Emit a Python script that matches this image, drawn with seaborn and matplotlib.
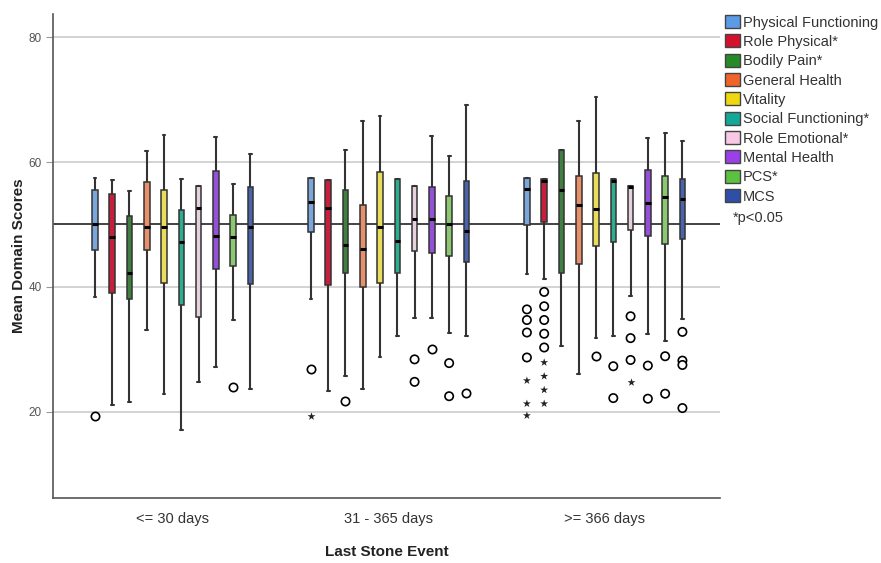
import numpy as np
import pandas as pd
import matplotlib
matplotlib.use("Agg")
import matplotlib.pyplot as plt
from matplotlib.patches import Patch
import seaborn as sns

categories = ["<= 30 days", "31 - 365 days", ">= 366 days"]
domains = ["Physical Functioning", "Role Physical*", "Bodily Pain*", "General Health",
           "Vitality", "Social Functioning*", "Role Emotional*", "Mental Health",
           "PCS*", "MCS"]

# five-number summaries per category (rows) and domain (columns)
whisker_low = [
    [38.4, 21.1, 21.6, 33.1, 22.8, 17.1, 24.8, 27.2, 34.7, 23.6],
    [38.1, 23.4, 25.7, 23.6, 28.8, 32.1, 35.0, 35.0, 32.6, 32.2],
    [42.1, 41.3, 30.5, 26.1, 31.8, 32.2, 38.6, 32.5, 31.3, 34.9],
]
quart1 = [
    [45.9, 39.1, 38.1, 45.9, 40.6, 37.1, 35.2, 42.9, 43.4, 40.4],
    [48.8, 40.3, 42.2, 40.0, 40.6, 42.2, 45.7, 45.5, 45.0, 44.0],
    [49.9, 50.4, 42.3, 43.7, 46.6, 47.2, 49.1, 48.2, 46.9, 47.6],
]
medians = [
    [50.0, 48.0, 42.2, 49.6, 49.6, 47.2, 52.6, 48.2, 48.0, 49.6],
    [53.6, 52.6, 46.7, 46.0, 49.6, 47.3, 50.9, 50.9, 50.0, 48.9],
    [55.6, 57.0, 55.5, 53.1, 52.5, 57.0, 56.0, 53.4, 54.4, 54.1],
]
quart3 = [
    [55.5, 54.8, 51.4, 56.8, 55.5, 52.3, 56.1, 58.6, 51.5, 56.0],
    [57.4, 57.1, 55.5, 53.1, 58.4, 57.2, 56.1, 56.0, 54.5, 57.0],
    [57.5, 57.2, 62.0, 57.8, 58.3, 57.2, 56.1, 58.7, 57.7, 57.3],
]
whisker_high = [
    [57.4, 57.1, 55.4, 61.7, 64.3, 57.2, 56.1, 64.0, 56.4, 61.3],
    [57.4, 57.1, 62.0, 66.5, 67.4, 57.2, 56.1, 64.1, 61.0, 69.2],
    [57.5, 57.2, 62.0, 66.5, 70.4, 57.2, 56.1, 63.9, 64.7, 63.4],
]

# outliers: (category index, domain index, value)
outlier_circles = [
    (0, 0, 19.4), (0, 8, 24.0),
    (1, 0, 26.8), (1, 2, 21.7), (1, 6, 28.4), (1, 6, 24.8), (1, 7, 30.0),
    (1, 8, 27.8), (1, 8, 22.5), (1, 9, 23.0),
    (2, 0, 36.4), (2, 0, 34.7), (2, 0, 32.7), (2, 0, 28.7),
    (2, 1, 39.2), (2, 1, 36.9), (2, 1, 34.7), (2, 1, 32.5), (2, 1, 30.3),
    (2, 4, 28.9), (2, 5, 27.3), (2, 5, 22.2),
    (2, 6, 35.3), (2, 6, 31.8), (2, 6, 28.3),
    (2, 7, 27.4), (2, 7, 22.1), (2, 8, 28.9), (2, 8, 22.9),
    (2, 9, 32.8), (2, 9, 28.2), (2, 9, 27.5), (2, 9, 20.6),
]
outlier_stars = [
    (1, 0, 19.3),
    (2, 0, 25.0), (2, 0, 21.3), (2, 0, 19.4),
    (2, 1, 27.9), (2, 1, 25.7), (2, 1, 23.5), (2, 1, 21.3),
    (2, 6, 24.8),
]

box_colors = ["#7aa6dc", "#c4203e", "#3f7f3f", "#e8906a", "#e8de5c",
              "#2cae8e", "#e6d2de", "#9450d6", "#8cc870", "#4a64ac"]
legend_colors = ["#5b9be6", "#d4102c", "#268a26", "#f0642a", "#f0d810",
                 "#14a896", "#f8c8e4", "#9a40e8", "#5cc040", "#2e4ea8"]

# long-form table built from the summaries
rows = []
for ci, cat in enumerate(categories):
    for di, dom in enumerate(domains):
        for arr in (whisker_low, quart1, medians, quart3, whisker_high):
            rows.append({"cat": cat, "dom": dom, "val": arr[ci][di]})
df = pd.DataFrame(rows)

circ_df = pd.DataFrame([{"cat": categories[c], "dom": domains[d], "val": v}
                        for c, d, v in outlier_circles])
star_df = pd.DataFrame([{"cat": categories[c], "dom": domains[d], "val": v}
                        for c, d, v in outlier_stars])

sns.set_style("white")
plt.rcParams["font.family"] = ["Liberation Sans", "DejaVu Sans"]

fig = plt.figure(figsize=(8.81, 5.63), dpi=100)
ax = fig.add_axes([53 / 881, 1 - 498 / 563, (720 - 53) / 881, (498 - 14) / 563])

ax.set_axisbelow(True)
ax.yaxis.grid(True, color="#c8c8c8", linewidth=1.1)
ax.axhline(50, color="#222222", linewidth=1.2, zorder=1.5)

pal = dict(zip(domains, box_colors))
sns.boxplot(data=df, x="cat", y="val", hue="dom", order=categories, hue_order=domains,
            palette=pal, saturation=1, width=0.8, gap=0.68, whis=(0, 100),
            showfliers=False, linecolor="#333333", linewidth=1.1,
            medianprops=dict(color="black", linewidth=2.2),
            whiskerprops=dict(linewidth=1.5),
            capprops=dict(linewidth=1.5),
            legend=False, ax=ax)

sns.stripplot(data=circ_df, x="cat", y="val", hue="dom", order=categories,
              hue_order=domains, palette=dict(zip(domains, ["white"] * 10)),
              dodge=True, jitter=False, marker="o", size=6, linewidth=1.2,
              edgecolor="black", legend=False, ax=ax, zorder=4)
sns.stripplot(data=star_df, x="cat", y="val", hue="dom", order=categories,
              hue_order=domains, palette=dict(zip(domains, ["#222222"] * 10)),
              dodge=True, jitter=False, marker="*", size=6, linewidth=0,
              legend=False, ax=ax, zorder=4)

ax.set_ylim(6.2, 83.7)
ax.set_xlim(-0.554, 2.534)
ax.set_yticks([20, 40, 60, 80])
ax.tick_params(axis="y", length=5, color="#999999", labelcolor="#555555", labelsize=8.5, pad=3, left=True)
ax.tick_params(axis="x", length=0, labelcolor="#333333", labelsize=10.5, pad=10)
for s in ["top", "right"]:
    ax.spines[s].set_visible(False)
for s in ["left", "bottom"]:
    ax.spines[s].set_color("#555555")
    ax.spines[s].set_linewidth(1.2)

ax.set_xlabel("Last Stone Event", fontsize=11, fontweight="bold", color="#222222", labelpad=14)
ax.set_ylabel("Mean Domain Scores", fontsize=11, fontweight="bold", color="#222222")
ax.yaxis.set_label_coords(-0.041, 0.5)

handles = [Patch(facecolor=c, edgecolor="#444444", linewidth=1.0, label=d)
           for c, d in zip(legend_colors, domains)]
fig.legend(handles=handles, loc="upper left", bbox_to_anchor=(725 / 881, 1 - 15 / 563),
           frameon=False, fontsize=10.5, handlelength=1.0, handleheight=1.0,
           handletextpad=0.25, labelspacing=0.33, borderaxespad=0, borderpad=0,
           labelcolor="#333333")
fig.text(733 / 881, 1 - 218 / 563, "*p<0.05", fontsize=10.5, color="#333333", va="center")

fig.savefig("out.png", dpi=100)
